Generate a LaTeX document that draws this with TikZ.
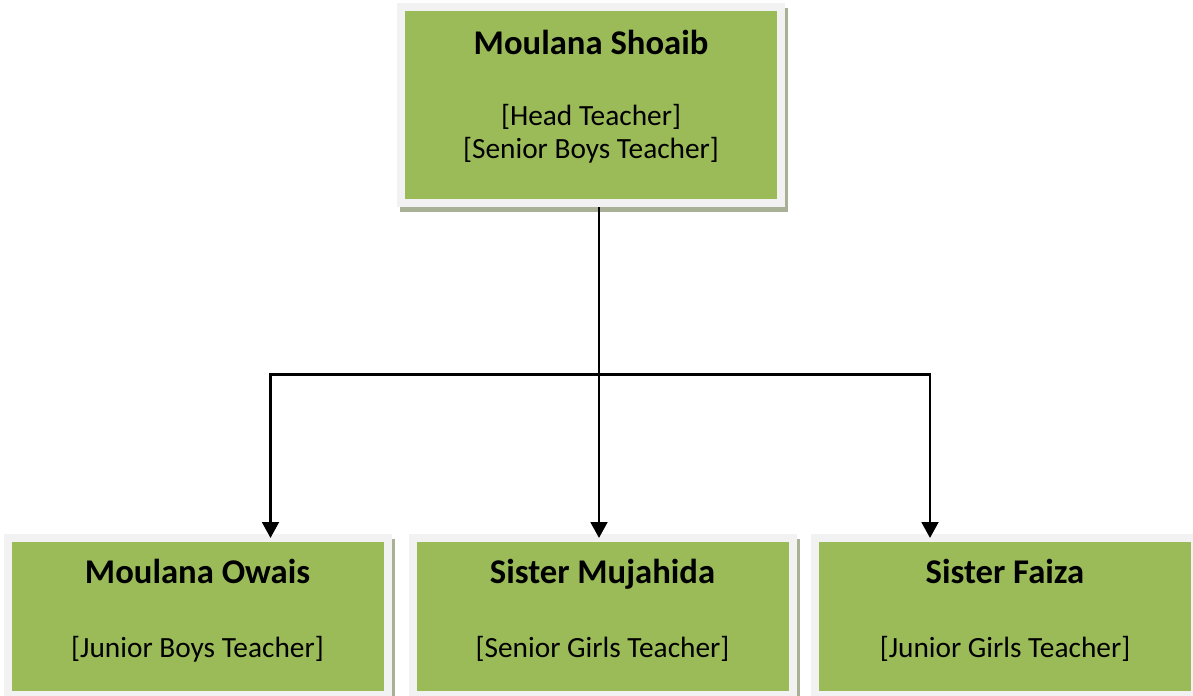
\documentclass[tikz,border=0pt]{standalone}
\usepackage{fontspec}
\setmainfont{Carlito}
\usetikzlibrary{arrows.meta,calc,backgrounds}
\definecolor{boxgreen}{HTML}{9BBB59}
\definecolor{boxrim}{HTML}{F2F2F2}
\definecolor{boxshade}{HTML}{A8B096}

\begin{document}
\begin{tikzpicture}[x=0.75pt,y=0.75pt,yscale=-1,
    staffbox/.style={draw=boxrim, fill=boxgreen, line width=6pt, inner sep=0pt, minimum width=285pt},
    staffname/.style={anchor=base, inner sep=0pt, font=\fontsize{26}{31}\selectfont\bfseries},
    staffrole/.style={anchor=base, inner sep=0pt, font=\fontsize{22}{26}\selectfont},
    link/.style={line width=2.2pt, shorten <=-3pt, shorten >=-3pt, arrows={-Triangle[width=12.5pt,length=12pt]}}]
        %set diagram size
        \useasboundingbox (0,0) rectangle (1193,696);

        %Shape: Rectangle [head]
        \node [staffbox, minimum height=147pt] (shoaib) at (591,105) {};
        %Shape: Rectangle [second row]
        \node [staffbox, minimum height=117.75pt] (owais) at (197.5,616.5) {};
        \node [staffbox, minimum height=117.75pt] (mujahida) at (602.5,616.5) {};
        \node [staffbox, minimum height=117.75pt] (faiza) at (1005,616.5) {};

        %Shadows
        \begin{scope}[on background layer]
        \foreach \b in {shoaib,owais,mujahida,faiza}
            \fill [boxshade] ($(\b.north west)+(3,5)$) rectangle ($(\b.south east)+(3,5)$);
        \end{scope}

        %Straight Lines
        \coordinate (busL) at (270.5,374.5);
        \coordinate (busM) at (599,374.5);
        \coordinate (busR) at (930,374.5);
        \draw [link, arrows={Triangle[width=12.5pt,length=12pt]-Triangle[width=12.5pt,length=12pt]}] (busL |- owais.north) |- (busR) -- (busR |- faiza.north);
        \draw [link, shorten <=0pt] (busM |- shoaib.south) -- (busM |- mujahida.north);

        % Text Node
        \node [staffname] (shoaibname) at (591,54) {Moulana Shoaib};
        % Text Node
        \node [staffrole] (shoaibrole) at (591,125) {[Head Teacher]};
        \node [staffrole] (shoaibrole2) at (591,158) {[Senior Boys Teacher]};
        % Text Node
        \node [staffname] (owaisname) at (197.5,583) {Moulana Owais};
        \node [staffrole] (owaisrole) at (197.5,657) {[Junior Boys Teacher]};
        % Text Node
        \node [staffname] (mujahidaname) at (602.5,583) {Sister Mujahida};
        \node [staffrole] (mujahidarole) at (602.5,657) {[Senior Girls Teacher]};
        % Text Node
        \node [staffname] (faizaname) at (1005,583) {Sister Faiza};
        \node [staffrole] (faizarole) at (1005,657) {[Junior Girls Teacher]};

\end{tikzpicture}
\end{document}
